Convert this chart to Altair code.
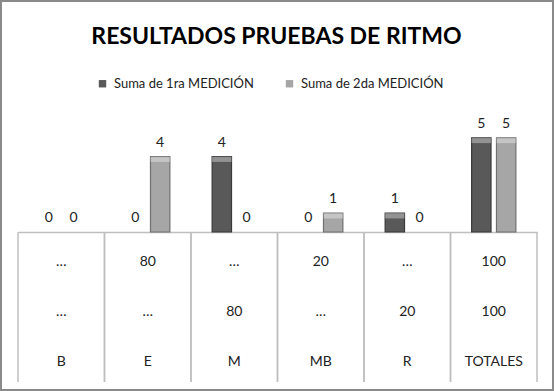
import altair as alt
import pandas as pd

categories = ["B", "E", "M", "MB", "R", "TOTALES"]
series = ["Suma de 1ra MEDICIÓN", "Suma de 2da MEDICIÓN"]
medicion1 = [0, 0, 4, 0, 1, 5]
medicion2 = [0, 4, 0, 1, 0, 5]
pct1 = ["…", "80", "…", "20", "…", "100"]
pct2 = ["…", "…", "80", "…", "20", "100"]
title_text = "RESULTADOS PRUEBAS DE RITMO"

rows = []
for c, v1, v2 in zip(categories, medicion1, medicion2):
    rows.append({"cat": c, "serie": series[0], "valor": v1})
    rows.append({"cat": c, "serie": series[1], "valor": v2})
bars_df = pd.DataFrame(rows)

trows = []
for c, a, b in zip(categories, pct1, pct2):
    trows.append({"cat": c, "row": "r1", "txt": a})
    trows.append({"cat": c, "row": "r2", "txt": b})
    trows.append({"cat": c, "row": "r3", "txt": c})
table_df = pd.DataFrame(trows)

FONT = "Lato"
W = 519
H_BAR = 113
H_TAB = 150

xscale = alt.Scale(domain=categories, paddingInner=0, paddingOuter=0)
xoff = alt.Scale(domain=series, paddingInner=0.22, paddingOuter=0.85)
fill_scale = alt.Scale(domain=series, range=["#595959", "#a6a6a6"])
stroke_scale = alt.Scale(domain=series, range=["#3a3a3a", "#707070"])

X = alt.X("cat:N", scale=xscale, sort=categories,
          axis=alt.Axis(labels=False, ticks=False, title=None, domainColor="#bfbfbf", domainWidth=1.5))
XO = alt.XOffset("serie:N", scale=xoff, sort=series)
Y = alt.Y("valor:Q", scale=alt.Scale(domain=[0, 6]), axis=None)

base = alt.Chart(bars_df)

bars = base.transform_filter("datum.valor > 0").mark_bar(strokeWidth=1.2).encode(
    x=X, xOffset=XO, y=Y,
    color=alt.Color("serie:N", scale=fill_scale, sort=series,
                    legend=alt.Legend(orient="none", legendX=78, legendY=-42, direction="horizontal",
                                      title=None, symbolType="square", symbolSize=55,
                                      symbolStrokeWidth=0, labelFontSize=13, labelFont=FONT,
                                      labelColor="#222", columnPadding=29, symbolOffset=0,
                                      labelOffset=5)),
    stroke=alt.Stroke("serie:N", scale=stroke_scale, legend=None),
)

bevel = base.transform_filter("datum.valor > 0").transform_calculate(
    top2="datum.valor - 0.28"
).mark_bar(fill="white", opacity=0.35).encode(
    x=X, xOffset=XO, y=Y, y2="top2:Q"
)

labels = base.mark_text(dy=-14, fontSize=14, font=FONT, color="#222").encode(
    x=X, xOffset=XO, y=Y, text="valor:Q"
)

deco = alt.Chart(pd.DataFrame({"t": [title_text]}))
frame = deco.mark_rect(
    fill=None, stroke="#8a8a8a", strokeWidth=2
).encode(x=alt.value(-17), x2=alt.value(535), y=alt.value(-118), y2=alt.value(271))
title = deco.mark_text(font=FONT, fontSize=23, fontWeight="bold", color="#000",
                       baseline="middle", align="center").encode(
    x=alt.value(W / 2 - 1), y=alt.value(-82), text="t:N")

top = alt.layer(frame, title, bars, bevel, labels).properties(width=W, height=H_BAR)

tX = alt.X("cat:N", scale=xscale, sort=categories, axis=None)
tY = alt.Y("row:N", scale=alt.Scale(type="point", padding=0.5, domain=["r1", "r2", "r3"]), axis=None)
tbase = alt.Chart(table_df)
ttext = tbase.mark_text(fontSize=14, font=FONT, color="#222", dy=5).encode(x=tX, y=tY, text="txt:N")
cats_df = pd.DataFrame({"cat": categories})
vl_left = alt.Chart(cats_df).mark_rule(color="#bfbfbf", strokeWidth=1.5).encode(
    x=alt.X("cat:N", scale=xscale, sort=categories, axis=None, bandPosition=0))
vl_right = alt.Chart(cats_df).mark_rule(color="#bfbfbf", strokeWidth=1.5).encode(
    x=alt.X("cat:N", scale=xscale, sort=categories, axis=None, bandPosition=1))
table = alt.layer(vl_left, vl_right, ttext).properties(width=W, height=H_TAB)

chart = alt.vconcat(top, table, spacing=0, bounds="flush").properties(
    padding=0,
    background="white",
).configure_view(stroke=None).configure_concat(spacing=0)

chart.save("out.html", embed_options={"renderer": "svg", "actions": False})
